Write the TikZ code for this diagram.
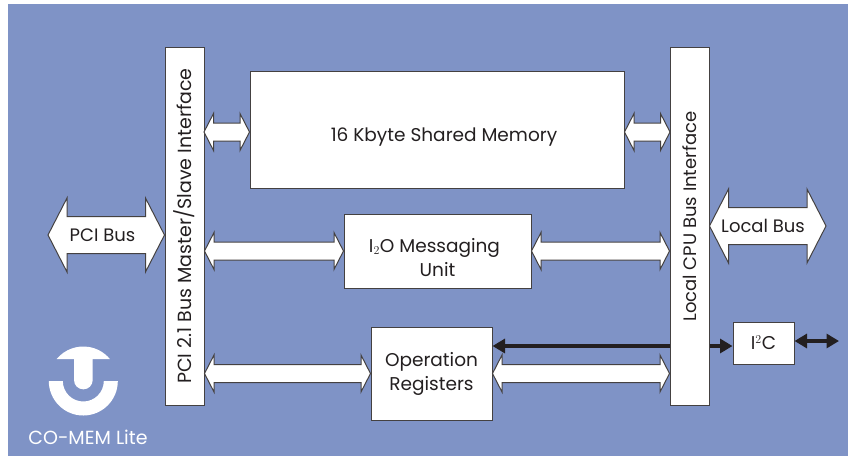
\documentclass[tikz,border=0pt]{standalone}
\usepackage{fontspec}
\usepackage{graphicx}
\setmainfont{Poppins}
\usetikzlibrary{calc,arrows.meta}
\definecolor{panelblue}{RGB}{127,147,198}
\definecolor{inkgrey}{RGB}{35,31,32}
\tikzset{
  block/.style={draw=inkgrey!85,line width=1pt,fill=white,text=inkgrey,inner sep=0pt,align=center,font=\fontsize{18.5}{24}\selectfont},
  buslabel/.style={text=inkgrey,inner sep=0pt,font=\fontsize{18}{20}\selectfont},
  % head length, head half height, shaft half height
  busarrow/.style n args={3}{draw=inkgrey!85,line width=1pt,fill=white,line join=miter,
    to path={-- ++(#1,#2) -- ++(0,#3-#2) -- ($(\tikztotarget)+(-#1,#3)$) -- ++(0,#2-#3) -- (\tikztotarget)
      -- ++(-#1,-#2) -- ++(0,#2-#3) -- ($(\tikztostart)+(#1,-#3)$) -- ++(0,#3-#2) -- cycle}},
  smallbus/.style={busarrow={9.5}{18.5}{9}},
  widebus/.style={busarrow={19}{37}{18.5}},
  signal/.style={draw=inkgrey,line width=3.5pt},
  tip/.style={-{Triangle[length=12.5pt,width=14pt]}},
  twotip/.style={{Triangle[length=12.5pt,width=14pt]}-{Triangle[length=12.5pt,width=14pt]}}
}
\begin{document}
\begin{tikzpicture}[x=1pt,y=1pt]
\useasboundingbox (0,0) rectangle (848,-456);
\fill[panelblue] (8,-4) rectangle (848,-456);
% blocks
\node[block,minimum width=39pt,minimum height=358pt] (pci) at (184.5,-226) {\rotatebox{90}{\fontsize{19}{24}\selectfont PCI 2.1 Bus Master/Slave Interface}};
\node[block,minimum width=39pt,minimum height=358pt] (cpu) at (689.5,-226) {\rotatebox{90}{\hspace*{19pt}\fontsize{18}{24}\selectfont Local CPU Bus Interface}};
\node[block,minimum width=374pt,minimum height=117pt] (mem) at (437,-129.5) {\hspace*{14pt}\raisebox{-11.5pt}[0pt][0pt]{16 Kbyte Shared Memory}};
\node[block,minimum width=187pt,minimum height=74pt] (i2o) at (437.5,-251) {\hspace*{-6pt}\raisebox{-13pt}[0pt][0pt]{I$_2$O Messaging}\\\raisebox{-13pt}[0pt][0pt]{Unit}};
\node[block,minimum width=121pt,minimum height=93pt] (regs) at (431.5,-373.5) {Operation\\Registers};
\node[block,minimum width=61pt,minimum height=42pt] (i2c) at (763.5,-343) {I$^2$C};
% bus arrows
\coordinate (pcifree) at (48,-235);
\coordinate (localfree) at (826,-226);
\coordinate (pcimem) at (204,-132);
\coordinate (cpumem) at (670,-132);
\path[smallbus] (pcimem) to (pcimem -| mem.west);
\path[smallbus] (cpumem -| mem.east) to (cpumem);
\path[smallbus] (pci.east |- i2o.west) to (i2o.west);
\path[smallbus] (i2o.east) to (cpu.west |- i2o.east);
\path[smallbus] (pci.east |- regs.west) to (regs.west);
\path[smallbus] (regs.east) to (cpu.west |- regs.east);
\path[widebus] (pcifree) to (pcifree -| pci.west);
\path[widebus] (localfree -| cpu.east) to (localfree);
\node[buslabel] (pcilabel) at (102.5,-235) {PCI Bus};
\node[buslabel] (locallabel) at (763,-226) {Local Bus};
% signals
\coordinate (cpusig) at (670,-346);
\coordinate (i2cfree) at (839,-341);
\draw[signal,tip] (cpusig) -- (cpusig -| regs.east);
\draw[signal,tip] (cpusig -| cpu.east) -- (cpusig -| i2c.west);
\draw[signal,twotip] (i2cfree -| i2c.east) -- (i2cfree);
% logo
\fill[white] (83.3,-381) ++(-34.5,0) arc[start angle=180,end angle=360,radius=34.5] -- ++(-14,0) arc[start angle=0,end angle=-180,radius=20.5] -- cycle;
\fill[white] (56.7,-359) arc[start angle=140.4,end angle=39.6,radius=34.5] -- (92.7,-359) -- (92.7,-380) arc[start angle=0,end angle=-180,radius=9.35] -- (74,-359) -- cycle;
\node[text=white,inner sep=0pt,font=\fontsize{19}{20}\selectfont] (logotext) at (88,-437) {CO-MEM Lite};
\end{tikzpicture}
\end{document}
